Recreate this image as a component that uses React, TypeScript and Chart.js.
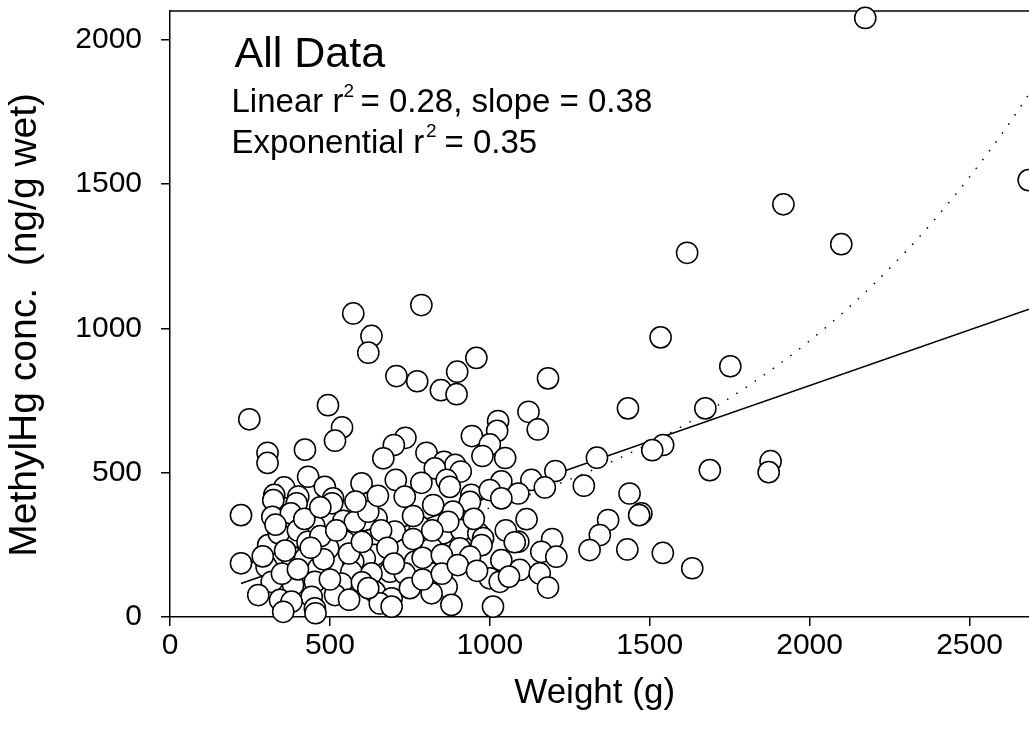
import React, { useEffect, useRef } from 'react';
import { Chart, registerables } from 'chart.js';

Chart.register(...registerables);

// Scatter data: fish weight (g) and methyl-Hg concentration (ng/g wet)
const weights = [
  2174, 2685, 1918, 2099, 1617, 786, 573, 1534, 630, 620, 958, 898, 1752, 708, 1182, 773, 847, 896, 248, 1432,
  1674, 494, 1121, 1026, 538, 1150, 1023, 944, 736, 516, 700, 1542, 1000, 422, 1508, 305, 802, 977, 1335, 667,
  1048, 857, 305, 892, 1878, 828, 1688, 1205, 1872, 909, 432, 1130, 706, 865, 599, 786, 1036, 1294, 357, 484,
  875, 1172, 942, 1000, 1437, 1089, 326, 734, 401, 510, 1036, 323, 938, 823, 396, 507, 885, 1474, 1467, 222,
  320, 378, 646, 609, 1115, 1370, 542, 578, 451, 781, 703, 854, 911, 964, 979, 1344, 1195, 630, 370, 547,
  1089, 307, 974, 495, 734, 818, 906, 1312, 1430, 1161, 1541, 640, 1208, 380, 422, 609, 938, 1036, 766, 573,
  222, 302, 464, 828, 1633, 1094, 567, 688, 734, 818, 630, 1156, 1000, 1031, 318, 417, 453, 536, 385, 865,
  1182, 640, 818, 276, 516, 443, 693, 344, 380, 656, 880, 693, 1010, 453, 354, 455,
  340, 360, 400, 430, 470, 520, 560, 600, 660, 680, 700, 760, 790, 850, 600, 480, 350, 400, 500, 560,
  620, 750, 790, 850, 330, 440, 620, 760, 870, 950, 1050, 900, 960, 1060, 420, 470, 580, 650, 820, 290, 1078,
];
const concs = [
  2076, 1514, 1430, 1292, 1262, 1081, 1052, 969, 974, 916, 898, 850, 869, 835, 827, 817, 786, 772, 685, 723,
  723, 734, 711, 679, 657, 650, 645, 627, 621, 611, 596, 596, 598, 580, 578, 569, 569, 558, 552, 550,
  551, 538, 534, 527, 540, 515, 509, 506, 502, 504, 486, 475, 475, 475, 463, 465, 470, 455, 449, 451,
  451, 449, 423, 440, 428, 428, 423, 417, 417, 411, 411, 405, 399, 388, 394, 394, 365, 359, 353, 353,
  347, 359, 342, 336, 339, 336, 333, 330, 316, 313, 296, 290, 301, 290, 273, 284, 270, 267, 261, 261,
  261, 249, 249, 238, 232, 238, 238, 232, 234, 226, 222, 215, 209, 209, 203, 203, 209, 197, 192, 192,
  186, 174, 169, 174, 169, 163, 157, 157, 151, 151, 151, 151, 134, 122, 122, 122, 122, 116, 111, 105,
  102, 88, 82, 76, 76, 70, 65, 59, 53, 47, 42, 36, 36, 30, 18, 13,
  290, 230, 300, 260, 280, 300, 220, 260, 300, 240, 185, 270, 205, 215, 120, 200, 150, 165, 130, 60,
  100, 100, 130, 150, 320, 240, 365, 350, 330, 340, 300, 180, 160, 140, 340, 380, 400, 420, 300, 210, 259,
];

// Linear regression line (endpoints)
const linearX = [222, 2686];
const linearY = [116, 1067];

// Exponential fit curve
const expX = [222, 400, 600, 800, 1000, 1200, 1400, 1600, 1800, 2000, 2200, 2400, 2600, 2686];
const expY = [183, 216, 260, 314, 378, 455, 548, 660, 795, 957, 1153, 1389, 1672, 1812];

const xTickValues = [0, 500, 1000, 1500, 2000, 2500];
const yTickValues = [0, 500, 1000, 1500, 2000];

const FONT = '"Liberation Sans", Arial, Helvetica, sans-serif';

const annotationPlugin = {
  id: 'annotations',
  beforeDatasetsDraw(chart: any) {
    const { ctx, chartArea } = chart;
    ctx.save();
    ctx.strokeStyle = '#000';
    ctx.lineWidth = 1.5;
    ctx.beginPath();
    ctx.moveTo(chartArea.left, chartArea.top);
    ctx.lineTo(chart.width, chartArea.top);
    ctx.stroke();
    ctx.restore();
  },
  afterDraw(chart: any) {
    const { ctx } = chart;
    ctx.save();
    ctx.fillStyle = '#000';
    ctx.textAlign = 'left';
    ctx.textBaseline = 'alphabetic';
    ctx.font = `43px ${FONT}`;
    ctx.fillText('All Data', 234.5, 66.7);

    ctx.font = `33px ${FONT}`;
    ctx.fillText('Linear r', 231.5, 111.7);
    ctx.fillText('= 0.28, slope = 0.38', 360.5, 111.7);
    ctx.fillText('Exponential r', 231.5, 153.3);
    ctx.fillText('= 0.35', 444.5, 153.3);

    ctx.font = `19px ${FONT}`;
    ctx.fillText('2', 343.5, 96.8);
    ctx.fillText('2', 426, 136.7);
    ctx.restore();
  },
};

export default function App() {
  const canvasRef = useRef<HTMLCanvasElement | null>(null);

  useEffect(() => {
    if (!canvasRef.current) return;
    Chart.defaults.font.family = FONT;
    const points = weights.map((w, i) => ({ x: w, y: concs[i] }));
    const chart = new Chart(canvasRef.current, {
      type: 'scatter',
      data: {
        datasets: [
          {
            label: 'Data',
            data: points,
            pointStyle: 'circle',
            pointRadius: 10.6,
            pointBorderWidth: 1.5,
            borderColor: '#000',
            backgroundColor: '#fff',
            pointBackgroundColor: '#fff',
            pointBorderColor: '#000',
            clip: false,
            order: 0,
          } as any,
          {
            label: 'Linear',
            data: linearX.map((x, i) => ({ x, y: linearY[i] })),
            showLine: true,
            pointRadius: 0,
            borderColor: '#000',
            borderWidth: 1.5,
            order: 1,
          } as any,
          {
            label: 'Exponential',
            data: expX.map((x, i) => ({ x, y: expY[i] })),
            showLine: true,
            pointRadius: 0,
            borderColor: '#000',
            borderWidth: 1.5,
            borderDash: [1.5, 9.5],
            cubicInterpolationMode: 'monotone',
            order: 2,
          } as any,
        ],
      },
      options: {
        animation: false,
        responsive: true,
        maintainAspectRatio: false,
        layout: { autoPadding: false, padding: { top: 11, right: 0, left: 0, bottom: 0 } },
        plugins: {
          legend: { display: false },
          tooltip: { enabled: false },
        },
        scales: {
          x: {
            type: 'linear',
            min: 0,
            max: 2686,
            afterBuildTicks: (s: any) => {
              s.ticks = xTickValues.map((v) => ({ value: v }));
            },
            afterFit: (s: any) => {
              s.height = 130;
              s.paddingLeft = 0;
              s.paddingRight = 0;
            },
            ticks: {
              font: { size: 30 },
              color: '#000',
              padding: 2,
              maxRotation: 0,
              autoSkip: false,
              callback: (v: any) => String(v),
            },
            grid: { drawOnChartArea: false, drawTicks: true, tickLength: 9, color: '#000', lineWidth: 1.5 },
            border: { display: true, color: '#000', width: 1.5 },
            title: {
              display: true,
              text: 'Weight (g)\u00a0',
              color: '#000',
              font: { size: 35 },
              padding: { top: 0, bottom: 33 },
            },
          },
          y: {
            type: 'linear',
            min: 0,
            max: 2100,
            afterBuildTicks: (s: any) => {
              s.ticks = yTickValues.map((v) => ({ value: v }));
            },
            afterFit: (s: any) => {
              s.width = 170;
              s.paddingTop = 0;
              s.paddingBottom = 0;
            },
            ticks: {
              font: { size: 30 },
              color: '#000',
              padding: 19,
              autoSkip: false,
              callback: (v: any) => String(v),
            },
            grid: { drawOnChartArea: false, drawTicks: true, tickLength: 9, color: '#000', lineWidth: 1.5 },
            border: { display: true, color: '#000', width: 1.5 },
            title: {
              display: true,
              text: 'MethylHg conc.  (ng/g wet)\u00a0\u00a0',
              color: '#000',
              font: { size: 39 },
              padding: { top: 2, bottom: 0 },
            },
          },
        },
      },
      plugins: [annotationPlugin],
    });
    return () => chart.destroy();
  }, []);

  return (
    <div style={{ position: 'fixed', left: 0, top: 0, width: 1029, height: 747, background: '#fff' }}>
      <canvas ref={canvasRef} />
    </div>
  );
}
